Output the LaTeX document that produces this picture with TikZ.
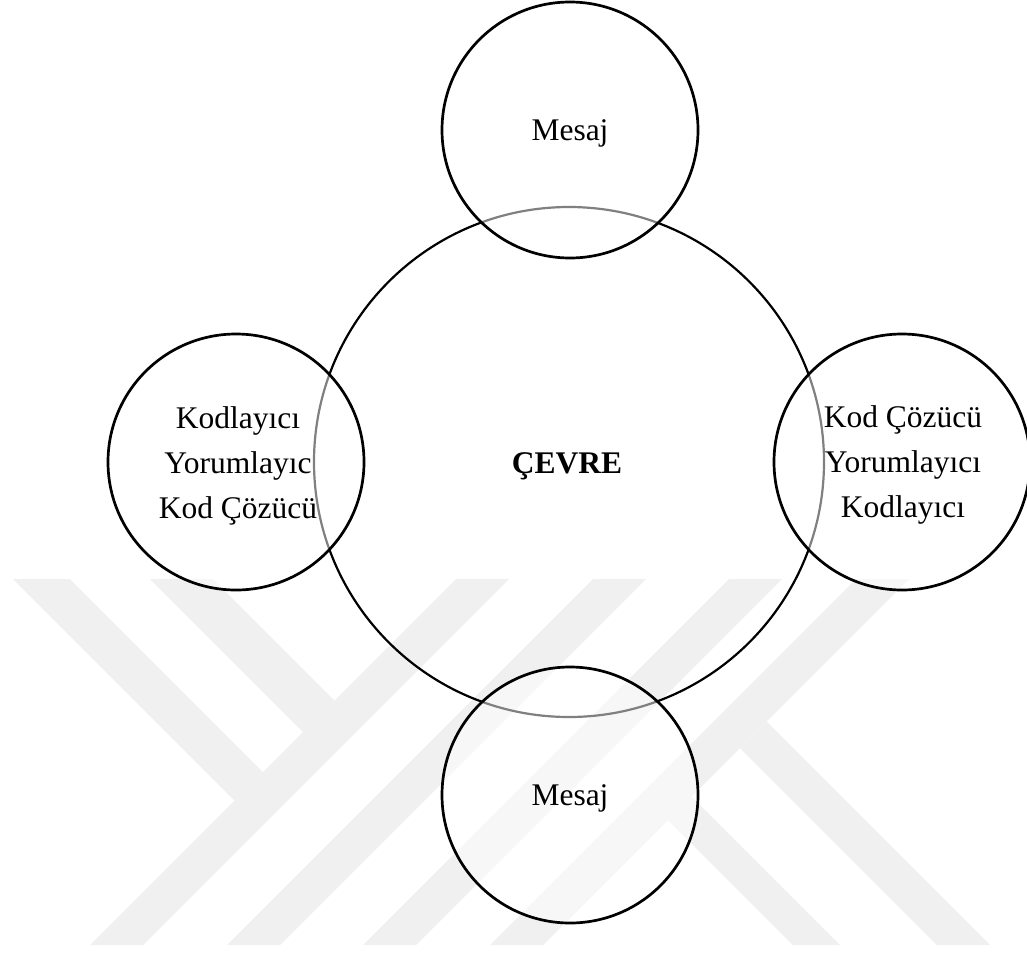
\documentclass[tikz,border=0pt]{standalone}
\usepackage{fontspec}
\setmainfont{Liberation Serif}
\definecolor{wm}{RGB}{240,240,240}
\tikzset{
  wmstripe/.style={fill=wm, draw=none},
  bigcirc/.style={circle, draw=black, line width=2.2pt, minimum size=510pt, inner sep=0pt},
  smallcirc/.style={circle, draw=black, line width=2.7pt, fill=white, fill opacity=0.5, draw opacity=1, minimum size=256pt, inner sep=0pt},
  lbl/.style={font=\fontsize{31.5pt}{45pt}\selectfont, align=center, anchor=base, inner sep=0pt},
}
\begin{document}
\begin{tikzpicture}[x=1pt,y=-1pt]
\useasboundingbox (0,0) rectangle (1027,953);
% watermark
\fill[wmstripe] (90,945) -- (143,945) -- (509,579) -- (456,579) -- cycle;
\fill[wmstripe] (227,945) -- (280,945) -- (646,579) -- (593,579) -- cycle;
\fill[wmstripe] (363,945) -- (416,945) -- (782,579) -- (729,579) -- cycle;
\fill[wmstripe] (490,945) -- (543,945) -- (909,579) -- (856,579) -- cycle;
\fill[wmstripe] (13,579) -- (70,579) -- (263,772) -- (234.5,800.5) -- cycle;
\fill[wmstripe] (150,579) -- (213,579) -- (334.5,700.5) -- (303,732) -- cycle;
\fill[wmstripe] (668,820) -- (691.5,796.5) -- (840,945) -- (793,945) -- cycle;
\fill[wmstripe] (740,748) -- (766.5,721.5) -- (990,945) -- (937,945) -- cycle;
% circles
\node[bigcirc] (cevre) at (569,462) {};
\node[smallcirc] (top) at (570,130) {};
\node[smallcirc] (bottom) at (570,795) {};
\node[smallcirc] (left) at (236,462) {};
\node[smallcirc] (right) at (902,462) {};
% texts
\node[lbl] (tcevre) at (567,473) {\textbf{ÇEVRE}};
\node[lbl] (ttop) at (570,140) {Mesaj};
\node[lbl] (tbottom) at (570,805) {Mesaj};
\node[lbl] (tleft) at (238,518) {Kodlayıcı\\Yorumlayıc\\Kod Çözücü};
\node[lbl] (tright) at (903,517) {Kod Çözücü\\Yorumlayıcı\\Kodlayıcı};
\end{tikzpicture}
\end{document}
